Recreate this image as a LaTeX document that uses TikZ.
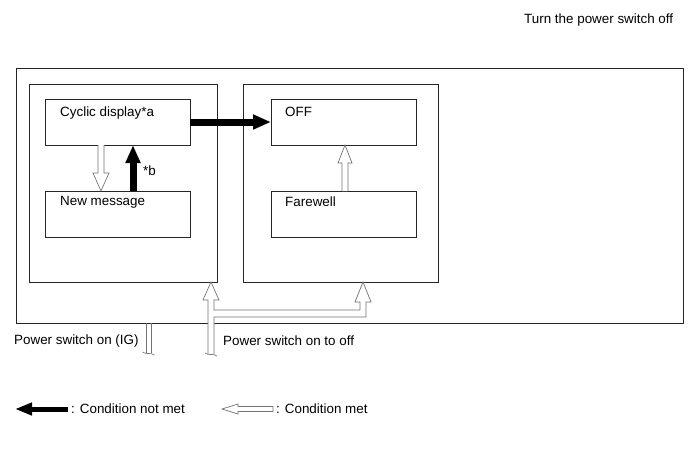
\documentclass[tikz,border=0pt]{standalone}
\usepackage{fontspec}
\setmainfont{Liberation Sans}
\usetikzlibrary{arrows.meta,calc}
\begin{document}
\begin{tikzpicture}[x=1pt,y=-1pt,
  box/.style={draw=black!85, line width=0.8pt, anchor=north west, inner sep=0pt, outer sep=0pt},
  lbl/.style={anchor=west, inner sep=0pt, font=\fontsize{13.4}{16}\selectfont},
  blk/.style={draw=black, line width=7pt, -{Triangle[length=18pt,width=14pt]}},
  hol/.style={draw=black!55, line width=0.7pt, fill=white, line join=miter}]
\useasboundingbox (0,0) rectangle (691,467);
% frames
\node[box, minimum width=667pt, minimum height=255pt] (outer) at (16,68) {};
\node[box, minimum width=188pt, minimum height=198pt] (lg) at (29,84) {};
\node[box, minimum width=195pt, minimum height=198pt] (rg) at (243,84) {};
% state boxes
\node[box, minimum width=145pt, minimum height=46pt] (cyc) at (45,99) {};
\node[box, minimum width=145pt, minimum height=46pt] (newm) at (45,191) {};
\node[box, minimum width=145pt, minimum height=46pt] (off) at (271,99) {};
\node[box, minimum width=145pt, minimum height=46pt] (fare) at (271,191) {};
\node[lbl] (cyct) at ($(cyc.north west)+(15,14)$) {Cyclic display*a};
\node[lbl] (newmt) at ($(newm.north west)+(15,11)$) {New message};
\node[lbl] (offt) at ($(off.north west)+(14,13)$) {OFF};
\node[lbl] (faret) at ($(fare.north west)+(14,11)$) {Farewell};
% black arrows
\draw[blk] (cyc.east) -- (off.west);
\draw[blk] ($(newm.north west)+(88,0)$) -- ($(cyc.south west)+(88,0)$);
\node[lbl] (bt) at (143,171) {*b};
% hollow arrows inside
\draw[hol] let \p1=($(cyc.south west)+(56,0)$), \p2=($(newm.north west)+(56,0)$) in
  (\x1-3pt,\y1) -- (\x1-3pt,\y2+18pt) -- (\x1-8pt,\y2+18pt) -- (\x2,\y2)
  -- (\x1+8pt,\y2+18pt) -- (\x1+3pt,\y2+18pt) -- (\x1+3pt,\y1);
\draw[hol] let \p1=($(fare.north west)+(74,0)$), \p2=($(off.south west)+(74,0)$) in
  (\x1-3pt,\y1) -- (\x1-3pt,\y2-18pt) -- (\x1-7pt,\y2-18pt) -- (\x2,\y2)
  -- (\x1+7pt,\y2-18pt) -- (\x1+3pt,\y2-18pt) -- (\x1+3pt,\y1);
% power switch on to off
\coordinate (tipL) at ($(lg.south west)+(182,0)$);
\coordinate (tipR) at ($(rg.south west)+(120,0)$);
\coordinate (pbot) at (211,354);
\draw[hol] let \p1=(tipL), \p2=(tipR), \p3=(pbot) in
  (\x1-3pt,\y3) -- (\x1-3pt,\y1-18pt) -- (\x1-8pt,\y1-18pt) -- (\x1,\y1)
  -- (\x1+8pt,\y1-18pt) -- (\x1+3pt,\y1-18pt) -- (\x1+3pt,\y1-28pt)
  -- (\x2-3pt,\y1-28pt) -- (\x2-3pt,\y2-20pt) -- (\x2-8pt,\y2-20pt) -- (\x2,\y2)
  -- (\x2+8pt,\y2-20pt) -- (\x2+3pt,\y2-20pt) -- (\x2+3pt,\y1-35pt)
  -- (\x1+3pt,\y1-35pt) -- (\x1+3pt,\y3);
\draw[draw=black!55, line width=0.7pt] ($(pbot)+(-6,-1)$) .. controls ($(pbot)+(-2,2)$) and ($(pbot)+(2,-1)$) .. ($(pbot)+(6,2)$);
% power switch on (IG)
\coordinate (igtop) at ($(outer.south west)+(132.5,0)$);
\coordinate (igbot) at (148.5,353);
\draw[hol] let \p1=(igtop), \p2=(igbot) in
  (\x1-2.5pt,\y1) -- (\x1-2.5pt,\y2) (\x1+2.5pt,\y2) -- (\x1+2.5pt,\y1);
\draw[draw=black!55, line width=0.7pt] ($(igbot)+(-6,-1)$) .. controls ($(igbot)+(-2,2)$) and ($(igbot)+(2,-1)$) .. ($(igbot)+(6,2)$);
% texts
\node[lbl] (title) at (524,20) {Turn the power switch off};
\node[lbl] (ig) at (14,341) {Power switch on (IG)};
\node[lbl] (onoff) at (223,341) {Power switch on to off};
% legend
\coordinate (lbA) at (68,409);
\coordinate (lbB) at (15,409);
\draw[draw=black, line width=5pt, -{Triangle[length=17pt,width=12pt]}] (lbA) -- (lbB);
\node[lbl] (l1) at (71,409) {: Condition not met};
\coordinate (lhA) at (273,409);
\coordinate (lhB) at (222,409);
\draw[hol] let \p1=(lhA), \p2=(lhB) in
  (\x1,\y1+2.5pt) -- (\x2+16pt,\y1+2.5pt) -- (\x2+16pt,\y1+5pt) -- (\x2,\y2)
  -- (\x2+16pt,\y1-5pt) -- (\x2+16pt,\y1-2.5pt) -- (\x1,\y1-2.5pt) -- cycle;
\node[lbl] (l2) at (276,409) {: Condition met};
\end{tikzpicture}
\end{document}
